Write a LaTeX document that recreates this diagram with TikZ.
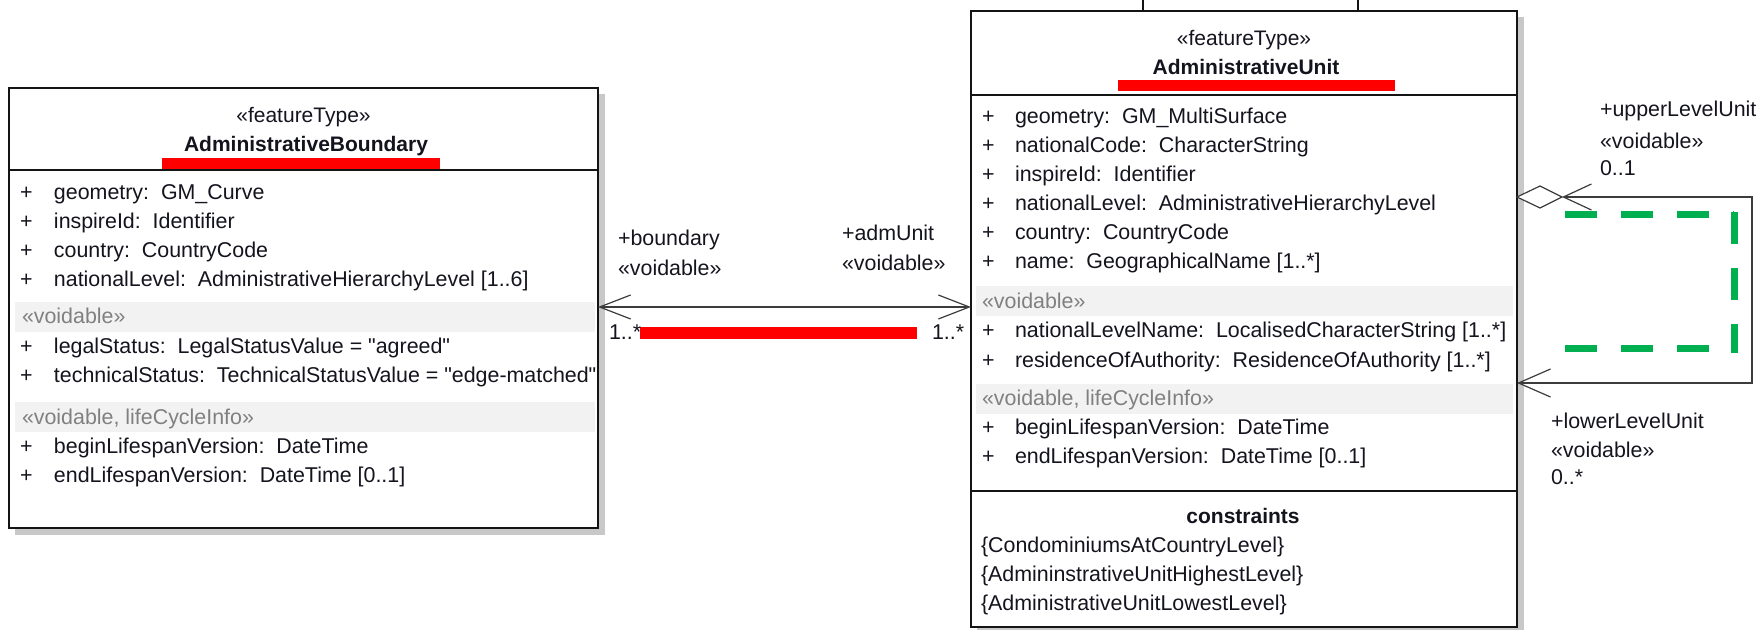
\documentclass[tikz,border=0pt]{standalone}
\usepackage{fontspec}
\setmainfont{Liberation Sans}[Ligatures=TeXOff]
\usetikzlibrary{arrows.meta}
\definecolor{txtcol}{RGB}{20,20,30}
\definecolor{secgray}{RGB}{128,128,128}
\definecolor{bandgray}{RGB}{242,242,242}
\definecolor{shadowgray}{RGB}{200,200,200}
\definecolor{boxline}{RGB}{20,20,20}
\definecolor{linecol}{RGB}{60,60,60}
\definecolor{dashgreen}{RGB}{0,176,80}
\begin{document}
\begin{tikzpicture}[x=0.5pt,y=-0.5pt,
  every node/.style={inner sep=0pt, outer sep=0pt},
  txt/.style={anchor=base west, font=\fontsize{10.7}{12}\selectfont, text=txtcol},
  sec/.style={txt, text=secgray},
  ctr/.style={anchor=base, font=\fontsize{10.5}{12}\selectfont, text=txtcol},
  ttl/.style={anchor=base, font=\fontsize{10.5}{12}\selectfont\bfseries, text=txtcol},
  classbox/.style={draw=boxline, line width=0.9pt, fill=white, rectangle},
  divider/.style={draw=boxline, line width=0.9pt},
  band/.style={fill=bandgray},
  redbar/.style={fill=red},
  shade/.style={fill=shadowgray},
  assoc/.style={draw=linecol, line width=0.6pt},
  greendash/.style={draw=dashgreen, line width=3.5pt, dash pattern=on 16pt off 12pt}
]
\useasboundingbox (0,0) rectangle (1760,630);

% ---------- shadows ----------
\fill[shade] (15,94) rectangle (605,535);
\fill[shade] (977,17) rectangle (1524,640);

% ---------- left class ----------
\node[classbox, minimum width=294.5pt, minimum height=220pt] (ab) at (303.5,308) {};
\draw[divider] (ab.west |- 0,170) -- (ab.east |- 0,170);
\fill[redbar] (162,158) rectangle (440,169);
\fill[band] (15,302) rectangle (595,332);
\fill[band] (15,402) rectangle (595,432);
\node[ctr] (abst) at (303.5,123) {«featureType»};
\node[ttl] (abname) at (306,152) {AdministrativeBoundary};
\foreach \y/\t [count=\i] in {
  200/{geometry:\ \ GM\_Curve},
  229/{inspireId:\ \ Identifier},
  258/{country:\ \ CountryCode},
  287/{nationalLevel:\ \ AdministrativeHierarchyLevel [1..6]},
  354/{legalStatus:\ \ LegalStatusValue = "agreed"},
  383/{technicalStatus:\ \ TechnicalStatusValue = "edge-matched"},
  453/{beginLifespanVersion:\ \ DateTime},
  482/{endLifespanVersion:\ \ DateTime [0..1]}} {
  \node[txt] (abp\i) at (20,\y) {+};
  \node[txt] (aba\i) at (54,\y) {\t};
}
\node[sec] (absec1) at (22,324) {«voidable»};
\node[sec] (absec2) at (22,424) {«voidable, lifeCycleInfo»};

% ---------- right class ----------
\node[classbox, minimum width=273pt, minimum height=308pt] (au) at (1244,319) {};
\draw[divider] (au.west |- 0,95) -- (au.east |- 0,95);
\draw[divider] (au.west |- 0,491) -- (au.east |- 0,491);
\fill[redbar] (1118,80) rectangle (1395,91);
\fill[band] (976,286) rectangle (1513,316);
\fill[band] (976,384) rectangle (1513,414);
\node[ctr] (aust) at (1244,46) {«featureType»};
\node[ttl] (auname) at (1246,75) {AdministrativeUnit};
\foreach \y/\t [count=\i] in {
  124/{geometry:\ \ GM\_MultiSurface},
  153/{nationalCode:\ \ CharacterString},
  182/{inspireId:\ \ Identifier},
  211/{nationalLevel:\ \ AdministrativeHierarchyLevel},
  240/{country:\ \ CountryCode},
  269/{name:\ \ GeographicalName [1..*]},
  338/{nationalLevelName:\ \ LocalisedCharacterString [1..*]},
  367/{residenceOfAuthority:\ \ ResidenceOfAuthority [1..*]},
  434/{beginLifespanVersion:\ \ DateTime},
  463/{endLifespanVersion:\ \ DateTime [0..1]}} {
  \node[txt] (aup\i) at (982,\y) {+};
  \node[txt] (aua\i) at (1015,\y) {\t};
}
\node[sec] (ausec1) at (982,309) {«voidable»};
\node[sec] (ausec2) at (982,405) {«voidable, lifeCycleInfo»};
\node[ttl] (cons) at (1243,523) {constraints};
\node[txt] (c1) at (981,552) {\{CondominiumsAtCountryLevel\}};
\node[txt] (c2) at (981,581) {\{AdmininstrativeUnitHighestLevel\}};
\node[txt] (c3) at (981,610) {\{AdministrativeUnitLowestLevel\}};

% small stubs of connectors leaving the top edge
\coordinate (s1) at (1143,0);
\coordinate (s2) at (1358,0);
\draw[divider] (s1) -- (s1 |- au.north);
\draw[divider] (s2) -- (s2 |- au.north);

% ---------- association boundary <-> admUnit ----------
\coordinate (abR) at (ab.east |- 0,307);
\coordinate (auL) at (au.west |- 0,307);
\draw[assoc, {Straight Barb[length=15.5pt, width=12pt]}-{Straight Barb[length=15.5pt, width=12pt]}] (abR) -- (auL);
\fill[redbar] (640,327) rectangle (917,339);
\node[txt] (lb1) at (618,246) {+boundary};
\node[txt] (lb2) at (618,276) {«voidable»};
\node[txt] (lb3) at (609,340) {1..*};
\node[txt] (lu1) at (842,241) {+admUnit};
\node[txt] (lu2) at (842,271) {«voidable»};
\node[txt] (lu3) at (932,340) {1..*};

% ---------- self association upper/lower level ----------
\coordinate (dL) at (au.east |- 0,197);
\coordinate (dR) at (1562,197);
\coordinate (lx) at (1752,0);
\coordinate (auR) at (au.east |- 0,383);
\draw[assoc, fill=white] (dL) -- (1540,186) -- (dR) -- (1540,208) -- cycle;
\draw[assoc, {Straight Barb[length=14pt, width=13pt]}-{Straight Barb[length=16pt, width=14pt]}]
  (dR) -- (dR -| lx) -- (auR -| lx) -- (auR);
\draw[greendash] (1565,215) -- (1734,215);
\draw[greendash] (1734,212) -- (1734,353);
\draw[greendash] (1565,349) -- (1734,349);
\node[txt] (up1) at (1600,117) {+upperLevelUnit};
\node[txt] (up2) at (1600,149) {«voidable»};
\node[txt] (up3) at (1600,176) {0..1};
\node[txt] (lo1) at (1551,429) {+lowerLevelUnit};
\node[txt] (lo2) at (1551,457) {«voidable»};
\node[txt] (lo3) at (1551,484) {0..*};
\end{tikzpicture}
\end{document}
